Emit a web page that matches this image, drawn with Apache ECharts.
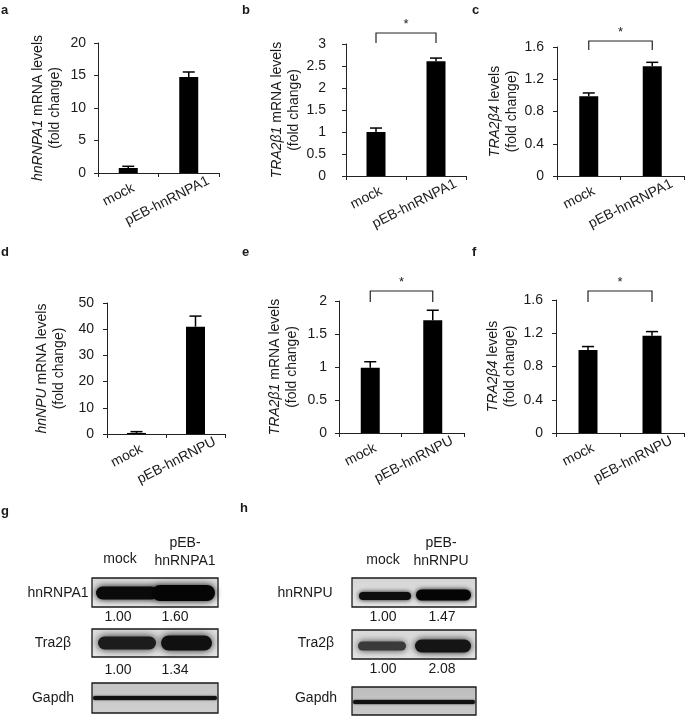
<!DOCTYPE html>
<html>
<head>
<meta charset="utf-8">
<script src="https://cdn.jsdelivr.net/npm/echarts@6/dist/echarts.min.js"></script>
<style>
html,body{margin:0;padding:0;background:#fff;}
#c{width:685px;height:716px;}
</style>
</head>
<body>
<div id="c"></div>
<script>
// ---------- data ----------
const catsA1 = ['mock', 'pEB-hnRNPA1'];
const catsU = ['mock', 'pEB-hnRNPU'];

const meanA = [0.77, 14.77];  const errA = [1.03, 15.54];
const meanB = [1.00, 2.61];   const errB = [1.09, 2.68];
const meanC = [0.99, 1.36];   const errC = [1.03, 1.41];
const meanD = [0.40, 40.97];  const errD = [0.90, 45.0];
const meanE = [0.99, 1.71];   const errE = [1.08, 1.86];
const meanF = [1.00, 1.17];   const errF = [1.04, 1.22];

const yMaxes = [20, 3, 1.6, 50, 2, 1.6];
const yIntervals = [5, 0.5, 0.4, 10, 0.5, 0.4];
const significant = [false, true, true, false, true, true];

const yNames = [
  '{i|hnRNPA1} mRNA levels\n(fold change)',
  '{i|TRA2β1} mRNA levels\n(fold change)',
  '{i|TRA2β4} levels\n(fold change)',
  '{i|hnNPU} mRNA levels\n(fold change)',
  '{i|TRA2β1} mRNA levels\n(fold change)',
  '{i|TRA2β4} levels\n(fold change)'
];

// western blot quantification
const blotG_hnRNPA1 = ['1.00', '1.60'];
const blotG_Tra2b = ['1.00', '1.34'];
const blotH_hnRNPU = ['1.00', '1.47'];
const blotH_Tra2b = ['1.00', '2.08'];

// ---------- layout ----------
const FONT = '"Liberation Sans", Arial, sans-serif';
const TXT = '#1a1a1a';
const panels = [
  {cats: catsA1, mean: meanA, err: errA, grid: {left: 98, top: 43, width: 121, height: 130}, gap: 34, lm: 12, br: 0, leg: 0},
  {cats: catsA1, mean: meanB, err: errB, grid: {left: 346, top: 44, width: 120, height: 132}, gap: 35, lm: 20, br: 11, leg: 10},
  {cats: catsA1, mean: meanC, err: errC, grid: {left: 557, top: 47, width: 127, height: 129}, gap: 31, lm: 13, br: 6, leg: 9},
  {cats: catsU, mean: meanD, err: errD, grid: {left: 107, top: 303, width: 118, height: 131}, gap: 39, lm: 13, br: 0, leg: 0},
  {cats: catsU, mean: meanE, err: errE, grid: {left: 339, top: 301, width: 125, height: 132}, gap: 38, lm: 12, br: 10, leg: 11},
  {cats: catsU, mean: meanF, err: errF, grid: {left: 556, top: 300, width: 128, height: 133}, gap: 37, lm: 13, br: 9, leg: 11}
];

// rotated category labels: shift each label right along x (Excel-like placement)
const ROT = 27 * Math.PI / 180;
function labelPad(shiftX) {
  const along = shiftX * Math.cos(ROT), perp = shiftX * Math.sin(ROT);
  return [Math.round(perp * 2), -Math.round(along), 0, 0];
}

const grids = [], xAxes = [], yAxes = [], series = [];
panels.forEach((p, i) => {
  grids.push(Object.assign({containLabel: false, outerBoundsMode: 'none'}, p.grid));
  xAxes.push({
    type: 'category', gridIndex: i,
    data: p.cats.map((c, j) => ({value: c, textStyle: {padding: labelPad(j === 0 ? 7 : 25)}})),
    axisLine: {show: true, lineStyle: {color: '#222', width: 1}},
    axisTick: {show: true, alignWithLabel: false, length: 4, lineStyle: {color: '#222'}},
    axisLabel: {rotate: 27, margin: 17, fontSize: 14, color: TXT, fontFamily: FONT, interval: 0,
      align: 'right', verticalAlign: 'middle'},
    splitLine: {show: false}
  });
  yAxes.push({
    type: 'value', gridIndex: i, min: 0, max: yMaxes[i], interval: yIntervals[i],
    name: yNames[i], nameLocation: 'middle', nameGap: p.gap, nameRotate: 90,
    nameTextStyle: {fontSize: 14, lineHeight: 17, color: TXT, fontFamily: FONT, align: 'center',
      rich: {i: {fontStyle: 'italic', fontSize: 14, lineHeight: 17, color: TXT, fontFamily: FONT}}},
    axisLine: {show: true, lineStyle: {color: '#222', width: 1}},
    axisTick: {show: true, length: 4, lineStyle: {color: '#222'}},
    axisLabel: {margin: p.lm, fontSize: 14, color: TXT, fontFamily: FONT},
    splitLine: {show: false}
  });
  series.push({
    type: 'bar', xAxisIndex: i, yAxisIndex: i, data: p.mean, barWidth: 19,
    itemStyle: {color: '#000'}, silent: true, animation: false
  });
  series.push({
    type: 'custom', xAxisIndex: i, yAxisIndex: i, animation: false, silent: true,
    data: p.mean.map((m, j) => [j, m, p.err[j]]),
    encode: {x: 0, y: [1, 2]},
    renderItem: function (params, api) {
      const a = api.coord([api.value(0), api.value(1)]);
      const b = api.coord([api.value(0), api.value(2)]);
      const hw = 6;
      return {type: 'group', children: [
        {type: 'line', shape: {x1: a[0], y1: a[1], x2: b[0], y2: b[1]}, style: {stroke: '#000', lineWidth: 1.5}},
        {type: 'line', shape: {x1: b[0] - hw, y1: b[1], x2: b[0] + hw, y2: b[1]}, style: {stroke: '#000', lineWidth: 1.5}}
      ]};
    }
  });
  if (significant[i]) {
    series.push({
      type: 'custom', xAxisIndex: i, yAxisIndex: i, animation: false, silent: true, clip: false,
      data: [[0, 0]],
      renderItem: function (params, api) {
        const pA = api.coord([0, yMaxes[i]]);
        const pB = api.coord([1, yMaxes[i]]);
        const top = p.grid.top - p.br;
        const leg = p.leg;
        return {type: 'group', children: [
          {type: 'polyline', shape: {points: [[pA[0], top + leg], [pA[0], top], [pB[0], top], [pB[0], top + leg]]},
            style: {stroke: '#222', lineWidth: 1.2, fill: null}},
          {type: 'text', x: (pA[0] + pB[0]) / 2, y: top - 2,
            style: {text: '*', fontSize: 13, fill: TXT, fontFamily: FONT, align: 'center', verticalAlign: 'bottom'}}
        ]};
      }
    });
  }
});

// ---------- graphic: panel letters and western blots ----------
const g = [];
function txt(x, y, s, opt) {
  g.push({type: 'text', x: x, y: y, silent: true,
    style: Object.assign({text: s, fontSize: 14, fill: TXT, fontFamily: FONT, align: 'center', verticalAlign: 'middle'}, opt || {})});
}
[['a', 1, 10], ['b', 242, 10], ['c', 472, 10], ['d', 1, 252], ['e', 242, 252], ['f', 472, 252], ['g', 1, 511], ['h', 240, 508]]
  .forEach(l => txt(l[1], l[2], l[0], {fontWeight: 'bold', fontSize: 13, align: 'left'}));

function box(x, y, w, h, fill) {
  g.push({type: 'rect', silent: true, shape: {x: x, y: y, width: w, height: h},
    style: {fill: {type: 'linear', x: 0, y: 0, x2: 0, y2: 1, colorStops: [{offset: 0, color: fill[0]}, {offset: 1, color: fill[1]}]},
      stroke: '#1a1a1a', lineWidth: 1.3}});
}
function band(x, y, w, h, color, blur) {
  g.push({type: 'rect', silent: true, shape: {x: x, y: y - h / 2, width: w, height: h, r: h / 2},
    style: {fill: color, shadowBlur: blur, shadowColor: color}});
}

// blot g
txt(120, 559, 'mock');
txt(185, 552, 'pEB-\nhnRNPA1', {lineHeight: 18});
txt(58, 593, 'hnRNPA1');
txt(53, 643, 'Tra2β');
txt(53, 698, 'Gapdh');
box(92, 578, 126, 29, ['#d8d8d8', '#ececec']);
band(96, 593, 62, 13, '#0a0a0a', 7);
band(152, 593, 63, 16, '#050505', 7);
box(92, 629, 126, 28, ['#dedede', '#e8e8e8']);
band(98, 643, 58, 13, '#1c1c1c', 8);
band(161, 643, 51, 15, '#101010', 8);
box(92, 683, 126, 30, ['#c4c4c4', '#d0d0d0']);
band(93, 698, 124, 4, '#111', 2);
txt(118, 617, blotG_hnRNPA1[0]); txt(175, 617, blotG_hnRNPA1[1]);
txt(118, 670, blotG_Tra2b[0]); txt(175, 670, blotG_Tra2b[1]);

// blot h
txt(383, 560, 'mock');
txt(441, 552, 'pEB-\nhnRNPU', {lineHeight: 18});
txt(305, 593, 'hnRNPU');
txt(316, 643, 'Tra2β');
txt(316, 698, 'Gapdh');
box(352, 578, 124, 29, ['#d4d4d4', '#e8e8e8']);
band(359, 596, 52, 8, '#0d0d0d', 5);
band(416, 595, 55, 11, '#050505', 5);
box(352, 630, 124, 29, ['#d8d8d8', '#e4e4e4']);
band(358, 646, 48, 9, '#3a3a3a', 7);
band(415, 646, 56, 13, '#151515', 7);
box(352, 687, 124, 28, ['#bdbdbd', '#cacaca']);
band(353, 702, 122, 4, '#111', 2);
txt(383, 617, blotH_hnRNPU[0]); txt(442, 617, blotH_hnRNPU[1]);
txt(383, 669, blotH_Tra2b[0]); txt(442, 669, blotH_Tra2b[1]);

const chart = echarts.init(document.getElementById('c'), null, {renderer: 'canvas'});
chart.setOption({
  animation: false,
  backgroundColor: '#fff',
  grid: grids, xAxis: xAxes, yAxis: yAxes, series: series,
  graphic: g
});
</script>
</body>
</html>
